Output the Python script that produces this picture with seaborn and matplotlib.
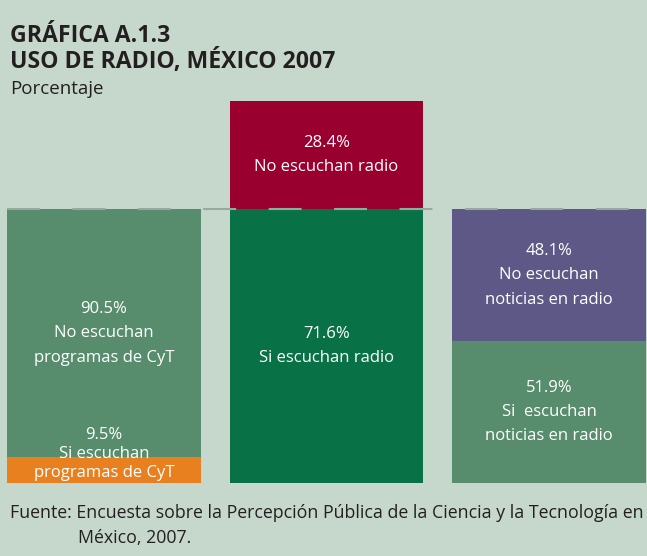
import seaborn as sns
import matplotlib.pyplot as plt

# data
categorias = ['Programas de CyT', 'Radio', 'Noticias en radio']
si_escuchan = [9.5, 71.6, 51.9]      # % "si escuchan"
no_escuchan = [90.5, 28.4, 48.1]     # % "no escuchan"
etiquetas_si = ['Si escuchan\nprogramas de CyT', 'Si escuchan radio', 'Si  escuchan\nnoticias en radio']
etiquetas_no = ['No escuchan\nprogramas de CyT', 'No escuchan radio', 'No escuchan\nnoticias en radio']

colores_si = ['#e9801f', '#087246', '#578d6c']
colores_no = ['#578d6c', '#99002f', '#5d5886']
fondo = '#c6d8cc'
texto = '#231f20'

sns.set_style('white')
plt.rcParams['font.family'] = ['Open Sans', 'DejaVu Sans']

# side bars break down the 71.6% who listen to radio
base = si_escuchan[1]
escala = [base / 100, 1.0, base / 100]
totales = [(s + n) * e for s, n, e in zip(si_escuchan, no_escuchan, escala)]
inferiores = [s * e for s, e in zip(si_escuchan, escala)]

fig = plt.figure(figsize=(6.47, 5.56), dpi=100)
fig.patch.set_facecolor(fondo)
ax = fig.add_axes([7 / 647, 73 / 556, 639 / 647, 382 / 556])
ax.set_facecolor(fondo)

sns.barplot(x=categorias, y=totales, hue=categorias, palette=colores_no,
            saturation=1, width=0.87, legend=False, linewidth=0, edgecolor='none', ax=ax)
sns.barplot(x=categorias, y=inferiores, hue=categorias, palette=colores_si,
            saturation=1, width=0.87, legend=False, linewidth=0, edgecolor='none', ax=ax)

ax.axhline(base, color='#9ba6a1', lw=1.5, linestyle=(0, (15.8, 15.6)), zorder=5)

ax.set_xlim(-0.435, 2.435)
ax.set_ylim(0, 100)
ax.set_xlabel('')
ax.set_ylabel('')
ax.set_xticks([])
ax.set_yticks([])
sns.despine(ax=ax, left=True, bottom=True)

# segment labels
for i in range(3):
    top_mid = (inferiores[i] + totales[i]) / 2
    ax.text(i, top_mid, f'{no_escuchan[i]}%\n{etiquetas_no[i]}', ha='center', va='center',
            color='white', fontsize=12, linespacing=1.7)
    if inferiores[i] > 20:
        ax.text(i, inferiores[i] / 2, f'{si_escuchan[i]}%\n{etiquetas_si[i]}', ha='center',
                va='center', color='white', fontsize=12, linespacing=1.7)
    else:
        ax.text(i, 0.6, f'{si_escuchan[i]}%\n{etiquetas_si[i]}', ha='center', va='bottom',
                color='white', fontsize=12, linespacing=1.25)

fig.text(10 / 647, 1 - 42 / 556, 'GRÁFICA A.1.3', fontsize=16.6, fontweight='bold', color=texto)
fig.text(10 / 647, 1 - 68 / 556, 'USO DE RADIO, MÉXICO 2007', fontsize=16.6, fontweight='bold', color=texto)
fig.text(10 / 647, 1 - 94 / 556, 'Porcentaje', fontsize=13.5, color=texto)
fig.text(10 / 647, 1 - 518 / 556,
         'Fuente: Encuesta sobre la Percepción Pública de la Ciencia y la Tecnología en',
         fontsize=12.8, color=texto)
fig.text(78 / 647, 1 - 543 / 556, 'México, 2007.', fontsize=12.8, color=texto)

plt.savefig('out.png', dpi=100, facecolor=fondo)
